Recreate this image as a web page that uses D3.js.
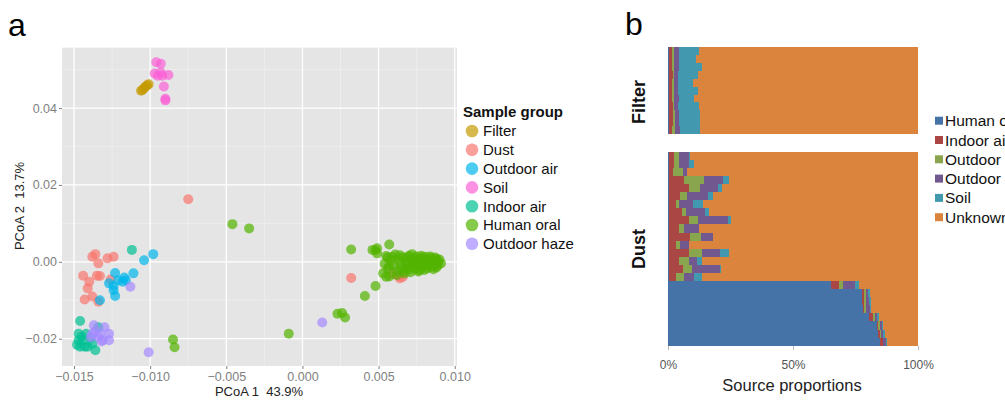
<!DOCTYPE html>
<html>
<head>
<meta charset="utf-8">
<script src="https://cdn.jsdelivr.net/npm/d3@7"></script>
<style>
  body { margin: 0; background: #fff; }
  svg { font-family: "Liberation Sans", Arial, sans-serif; display: block; }
</style>
</head>
<body>
<div id="chart"></div>
<script>
// ---- panel a data: PCoA coordinates per sample group ----
var groups = ["Filter", "Dust", "Outdoor air", "Soil", "Indoor air", "Human oral", "Outdoor haze"];

var filterPts = [[-0.0106, 0.0445], [-0.0105, 0.0447], [-0.0104, 0.0452], [-0.0103, 0.0456], [-0.0102, 0.0459], [-0.0101, 0.0462]];

var dustPts = [[-0.0138, 0.0013], [-0.0136, 0.0020], [-0.0134, -0.0004], [-0.0128, 0.0009], [-0.0124, 0.0013],
  [-0.0144, -0.0036], [-0.0133, -0.0037], [-0.0135, -0.0036], [-0.0140, -0.0052], [-0.0141, -0.0069],
  [-0.0143, -0.0098], [-0.0138, -0.0090], [-0.0134, -0.0104], [-0.0126, -0.0046], [-0.0075, 0.0163],
  [0.0032, -0.0042], [0.0059, -0.0032], [0.0064, -0.0043], [0.0063, -0.0037], [0.0066, -0.0039]];

var outdoorAirPts = [[-0.0104, 0.0004], [-0.0098, 0.0020], [-0.0123, -0.0029], [-0.0127, -0.0056], [-0.0121, -0.0048],
  [-0.0117, -0.0041], [-0.0111, -0.0030], [-0.0124, -0.0074], [-0.0123, -0.0089], [-0.0118, -0.0052],
  [-0.0133, -0.0100], [-0.0124, -0.0063], [-0.0116, -0.0048]];

var soilPts = [[-0.0096, 0.0519], [-0.0093, 0.0515], [-0.0097, 0.0490], [-0.0093, 0.0492], [-0.0092, 0.0484],
  [-0.0088, 0.0486], [-0.0095, 0.0484], [-0.0091, 0.0456], [-0.0090, 0.0424], [-0.0090, 0.0420]];

var indoorAirPts = [[-0.0112, 0.0031], [-0.0146, -0.0154], [-0.0147, -0.0187], [-0.0146, -0.0221], [-0.0143, -0.0221],
  [-0.0136, -0.0230], [-0.0142, -0.0187], [-0.0147, -0.0204], [-0.0144, -0.0204], [-0.0138, -0.0213],
  [-0.0134, -0.0170], [-0.0141, -0.0221], [-0.0145, -0.0195], [-0.0139, -0.0198], [-0.0148, -0.0216]];

var humanOralPts = [[-0.0046, 0.0098], [-0.0035, 0.0087], [-0.0085, -0.0202], [-0.0084, -0.0222], [-0.0009, -0.0187],
  [0.0032, 0.0032], [0.0046, 0.0031], [0.0049, 0.0035], [0.0049, 0.0022], [0.0048, 0.0030], [0.0057, 0.0045],
  [0.0048, -0.0063], [0.0041, -0.0089], [0.0023, -0.0135], [0.0026, -0.0133], [0.0028, -0.0145],
  [0.0056, 0.0011], [0.0055, -0.0039],
  [0.0055, 0.0015], [0.0054, -0.0005], [0.0056, -0.0018], [0.0053, -0.0030], [0.0057, -0.0038], [0.0058, 0.0005],
  [0.0060, -0.0010], [0.0061, 0.0019], [0.0062, -0.0025], [0.0063, 0.0008], [0.0064, -0.0003], [0.0065, -0.0015],
  [0.0066, 0.0012], [0.0067, -0.0030], [0.0068, 0.0002], [0.0069, -0.0008], [0.0070, 0.0016], [0.0070, -0.0020],
  [0.0071, 0.0006], [0.0072, -0.0012], [0.0073, 0.0010], [0.0073, -0.0004], [0.0074, -0.0018], [0.0075, 0.0014],
  [0.0075, 0.0001], [0.0076, -0.0009], [0.0077, 0.0007], [0.0077, -0.0022], [0.0078, -0.0002], [0.0079, 0.0011],
  [0.0079, -0.0014], [0.0080, 0.0004], [0.0081, -0.0006], [0.0081, 0.0013], [0.0082, -0.0017], [0.0083, 0.0002],
  [0.0083, -0.0010], [0.0084, 0.0009], [0.0085, -0.0003], [0.0085, -0.0013], [0.0086, 0.0005], [0.0087, -0.0007],
  [0.0087, 0.0011], [0.0088, -0.0015], [0.0089, 0.0001], [0.0089, -0.0009], [0.0090, 0.0006], [0.0091, -0.0004],
  [0.0086, -0.0019], [0.0072, 0.0020], [0.0066, -0.0024], [0.0059, 0.0013], [0.0062, -0.0034], [0.0057, -0.0012],
  [0.0064, 0.0017], [0.0068, -0.0017], [0.0074, 0.0004], [0.0078, 0.0016], [0.0080, -0.0021], [0.0084, 0.0014],
  [0.0088, 0.0008], [0.0076, -0.0025], [0.0071, -0.0027], [0.0069, 0.0011]];

var outdoorHazePts = [[-0.0113, -0.0065], [-0.0101, -0.0235], [0.0013, -0.0158], [-0.0137, -0.0165], [-0.0130, -0.0170],
  [-0.0127, -0.0187], [-0.0133, -0.0187], [-0.0131, -0.0204], [-0.0127, -0.0204], [-0.0134, -0.0196],
  [-0.0139, -0.0196], [-0.0136, -0.0180], [-0.0132, -0.0207], [-0.0138, -0.0187]];

var groupPts = [filterPts, dustPts, outdoorAirPts, soilPts, indoorAirPts, humanOralPts, outdoorHazePts];

var xTicksA = [-0.015, -0.010, -0.005, 0.000, 0.005, 0.010];
var yTicksA = [-0.02, 0.00, 0.02, 0.04];
var xMinorA = [-0.0125, -0.0075, -0.0025, 0.0025, 0.0075];
var yMinorA = [-0.01, 0.01, 0.03, 0.05];

// ---- panel b data: source proportions (%) per sample ----
var sources = ["Human oral", "Indoor air", "Outdoor air", "Outdoor haze", "Soil", "Unknown"];

var filterHuman   = [0.4, 0.4, 0.3, 0.4, 0.5, 0.4, 0.3, 0.4, 0.4, 0.5, 0.3];
var filterIndoor  = [1.0, 1.2, 1.3, 1.4, 1.2, 1.0, 1.3, 1.4, 1.5, 1.3, 1.2];
var filterOutdoor = [0.8, 0.7, 0.8, 0.6, 0.7, 0.9, 0.8, 0.7, 0.8, 1.0, 1.1];
var filterHaze    = [2.2, 2.0, 2.0, 1.6, 1.4, 1.8, 1.9, 1.6, 1.7, 1.8, 2.3];
var filterSoil    = [8.0, 6.9, 9.1, 7.8, 6.2, 7.7, 6.1, 8.1, 8.2, 8.2, 7.7];
var filterUnknown = [87.6, 88.8, 86.5, 88.2, 90.0, 88.2, 89.6, 87.8, 87.4, 87.2, 87.4];

var dustHuman   = [0.4, 0.4, 0.4, 0.4, 0.4, 0.4, 0.4, 0.4, 0.4, 0.4, 0.4, 0.4, 0.4, 0.4, 0.4, 0.4,
                   65.0, 77.7, 77.7, 77.9, 80.5, 83.5, 84.1, 84.8];
var dustIndoor  = [2.0, 2.0, 1.6, 5.8, 7.8, 4.5, 2.9, 5.2, 7.8, 3.8, 8.5, 2.9, 7.8, 3.8, 5.6, 2.9,
                   3.3, 0.6, 0.6, 0.5, 1.4, 0.6, 0.7, 1.1];
var dustOutdoor = [2.0, 2.2, 3.8, 8.0, 4.7, 2.7, 1.3, 1.7, 3.6, 2.4, 4.2, 1.6, 5.3, 4.0, 3.5, 3.2,
                   1.6, 0.8, 0.8, 0.9, 0.9, 0.7, 0.3, 0.2];
var dustHaze    = [4.0, 3.6, 1.6, 7.9, 6.9, 8.2, 5.3, 7.6, 12.1, 5.6, 4.7, 3.3, 7.1, 3.3, 11.3, 4.0,
                   5.0, 1.0, 1.3, 1.3, 0.9, 0.7, 1.0, 1.0];
var dustSoil    = [0.2, 2.3, 0.2, 2.4, 1.7, 2.0, 4.0, 1.3, 1.3, 0.2, 0.2, 0.3, 3.8, 2.0, 0.3, 3.0,
                   1.6, 0.7, 0.7, 0.7, 0.7, 0.5, 0.7, 0.4];
var dustUnknown = [91.4, 89.5, 92.4, 75.5, 78.5, 82.2, 86.1, 83.8, 74.8, 87.6, 82.0, 91.5, 75.6, 86.5, 78.9, 86.5,
                   23.5, 19.2, 18.9, 18.7, 15.6, 14.0, 13.2, 12.5];

var xTicksB = [0, 50, 100];

// ---- drawing ----
var width = 1005, height = 401;
var svg = d3.select("#chart").append("svg")
    .attr("width", width)
    .attr("height", height);

// panel letters
svg.append("text").attr("x", 8).attr("y", 36).attr("font-size", 32).text("a");
svg.append("text").attr("x", 625).attr("y", 35).attr("font-size", 32).text("b");

// ===== panel a =====
var x = d3.scaleLinear().domain([-0.01579, 0.01015]).range([62, 457]);
var y = d3.scaleLinear().domain([-0.0271, 0.0557]).range([366, 47.7]);

var color = d3.scaleOrdinal()
    .domain(groups)
    .range(["#C49A00", "#F8766D", "#00B6EB", "#FB61D7", "#00C094", "#53B400", "#A58AFF"]);

svg.append("rect")
    .attr("x", x.range()[0]).attr("y", y.range()[1])
    .attr("width", x.range()[1] - x.range()[0])
    .attr("height", y.range()[0] - y.range()[1])
    .attr("fill", "#E5E5E5");

var grid = svg.append("g");
grid.selectAll(".xminor").data(xMinorA).enter().append("line")
    .attr("x1", d => x(d)).attr("x2", d => x(d))
    .attr("y1", y.range()[0]).attr("y2", y.range()[1])
    .attr("stroke", "#F2F2F2").attr("stroke-width", 0.6);
grid.selectAll(".yminor").data(yMinorA).enter().append("line")
    .attr("y1", d => y(d)).attr("y2", d => y(d))
    .attr("x1", x.range()[0]).attr("x2", x.range()[1])
    .attr("stroke", "#F2F2F2").attr("stroke-width", 0.6);
grid.selectAll(".xmajor").data(xTicksA).enter().append("line")
    .attr("x1", d => x(d)).attr("x2", d => x(d))
    .attr("y1", y.range()[0]).attr("y2", y.range()[1])
    .attr("stroke", "#fff").attr("stroke-width", 1.3);
grid.selectAll(".ymajor").data(yTicksA).enter().append("line")
    .attr("y1", d => y(d)).attr("y2", d => y(d))
    .attr("x1", x.range()[0]).attr("x2", x.range()[1])
    .attr("stroke", "#fff").attr("stroke-width", 1.3);

// points, one layer per group
groups.forEach(function (g, i) {
    svg.append("g")
        .selectAll("circle")
        .data(groupPts[i])
        .enter()
        .append("circle")
        .attr("cx", d => x(d[0]))
        .attr("cy", d => y(d[1]))
        .attr("r", 5)
        .attr("fill", color(g))
        .attr("fill-opacity", 0.7);
});

// axes
var xAxisA = svg.append("g")
    .attr("transform", "translate(0," + y.range()[0] + ")")
    .call(d3.axisBottom(x).tickValues(xTicksA).tickFormat(d3.format(".3f")).tickSize(3).tickPadding(3));
var yAxisA = svg.append("g")
    .attr("transform", "translate(" + x.range()[0] + ",0)")
    .call(d3.axisLeft(y).tickValues(yTicksA).tickFormat(d3.format(".2f")).tickSize(3).tickPadding(2));
[xAxisA, yAxisA].forEach(function (a) {
    a.select(".domain").remove();
    a.selectAll("line").attr("stroke", "#7F7F7F");
    a.selectAll("text").attr("fill", "#7F7F7F").attr("font-size", 12.5)
        .attr("font-family", "Liberation Sans, Arial, sans-serif");
});

svg.append("text")
    .attr("x", 259).attr("y", 396)
    .attr("text-anchor", "middle").attr("font-size", 13).attr("fill", "#222")
    .style("white-space", "pre")
    .text("PCoA 1  43.9%");
svg.append("text")
    .attr("transform", "translate(24,206) rotate(-90)")
    .attr("text-anchor", "middle").attr("font-size", 13).attr("fill", "#222")
    .style("white-space", "pre")
    .text("PCoA 2  13.7%");

// legend a
var legA = svg.append("g");
legA.append("text")
    .attr("x", 463).attr("y", 117)
    .attr("font-size", 15).attr("font-weight", "bold").attr("fill", "#111")
    .text("Sample group");
var legItems = legA.selectAll(".item").data(groups).enter().append("g")
    .attr("transform", (d, i) => "translate(0," + (131 + i * 18.8) + ")");
legItems.append("circle")
    .attr("cx", 472).attr("cy", 0).attr("r", 6.3)
    .attr("fill", d => color(d)).attr("fill-opacity", 0.7);
legItems.append("text")
    .attr("x", 483).attr("y", 5.3)
    .attr("font-size", 15).attr("fill", "#111")
    .text(d => d);

// ===== panel b =====
var keys = ["human", "indoor", "outdoor", "haze", "soil", "unknown"];
var srcColor = d3.scaleOrdinal()
    .domain(keys)
    .range(["#4572A7", "#AA4643", "#89A54E", "#71588F", "#4198AF", "#DB843D"]);

function buildRows(h, i, o, z, s, u) {
    return h.map(function (v, k) {
        return { id: k, human: h[k], indoor: i[k], outdoor: o[k], haze: z[k], soil: s[k], unknown: u[k] };
    });
}
var filterRows = buildRows(filterHuman, filterIndoor, filterOutdoor, filterHaze, filterSoil, filterUnknown);
var dustRows = buildRows(dustHuman, dustIndoor, dustOutdoor, dustHaze, dustSoil, dustUnknown);

var xb = d3.scaleLinear().domain([0, 100]).range([668, 918]);
var stack = d3.stack().keys(keys);

var facets = [
    { name: "Filter", rows: filterRows, top: 47.3, bottom: 134, labelY: 102 },
    { name: "Dust", rows: dustRows, top: 151.7, bottom: 345.7, labelY: 249 }
];

facets.forEach(function (f) {
    var yb = d3.scaleBand()
        .domain(f.rows.map(d => d.id))
        .range([f.top, f.bottom])
        .padding(0);
    var series = stack(f.rows);
    svg.append("g")
        .attr("shape-rendering", "crispEdges")
        .selectAll("g")
        .data(series)
        .enter()
        .append("g")
        .attr("fill", d => srcColor(d.key))
        .selectAll("rect")
        .data(d => d)
        .enter()
        .append("rect")
        .attr("x", d => Math.round(xb(d[0])))
        .attr("width", d => Math.max(0, Math.round(xb(d[1])) - Math.round(xb(d[0]))))
        .attr("y", d => Math.round(yb(d.data.id)))
        .attr("height", d => Math.round(yb(d.data.id) + yb.bandwidth()) - Math.round(yb(d.data.id)));
    svg.append("text")
        .attr("transform", "translate(645," + f.labelY + ") rotate(-90)")
        .attr("text-anchor", "middle")
        .attr("font-size", 18).attr("font-weight", "bold").attr("fill", "#111")
        .text(f.name);
});

var xAxisB = svg.append("g")
    .attr("transform", "translate(0,346)")
    .call(d3.axisBottom(xb).tickValues(xTicksB).tickFormat(d => d + "%").tickSize(4).tickPadding(10));
xAxisB.select(".domain").remove();
xAxisB.selectAll("line").attr("stroke", "#BBBBBB");
xAxisB.selectAll("text").attr("fill", "#555").attr("font-size", 12)
    .attr("font-family", "Liberation Sans, Arial, sans-serif");

svg.append("text")
    .attr("x", 792).attr("y", 391)
    .attr("text-anchor", "middle").attr("font-size", 16.5).attr("fill", "#222")
    .text("Source proportions");

// legend b
var legB = svg.append("g").selectAll("g").data(keys).enter().append("g")
    .attr("transform", (d, i) => "translate(0," + (120.7 + i * 19.3) + ")");
legB.append("rect")
    .attr("x", 935).attr("y", -4).attr("width", 8).attr("height", 8)
    .attr("fill", d => srcColor(d));
legB.append("text")
    .attr("x", 945).attr("y", 5.5)
    .attr("font-size", 15.5).attr("fill", "#111")
    .text((d, i) => sources[i]);
</script>
</body>
</html>
